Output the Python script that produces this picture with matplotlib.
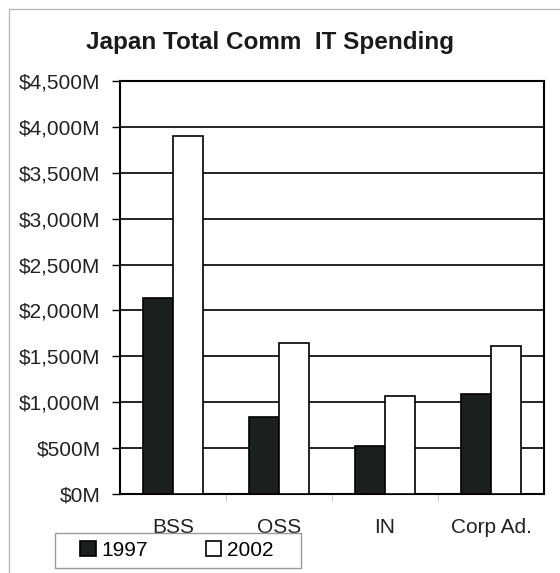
import numpy as np
import matplotlib.pyplot as plt
from matplotlib.patches import Rectangle
from matplotlib.ticker import FuncFormatter

categories = ['BSS', 'OSS', 'IN', 'Corp Ad.']
spend_1997 = [2140, 840, 520, 1090]
spend_2002 = [3900, 1645, 1070, 1615]

plt.rcParams['font.family'] = ['Liberation Sans', 'DejaVu Sans']

fig = plt.figure(figsize=(5.6, 5.73), dpi=100)
ax = fig.add_axes([0.2143, 0.1379, 0.7571, 0.7207])

x = np.arange(len(categories))
w = 0.285
ax.bar(x - w / 2, spend_1997, w, color='#1b1f1e', edgecolor='black', linewidth=1.2,
       label='1997', zorder=3)
ax.bar(x + w / 2, spend_2002, w, color='white', edgecolor='black', linewidth=1.2,
       label='2002', zorder=3)

ax.set_xlim(-0.5, len(categories) - 0.5)
ax.set_ylim(0, 4500)
ax.set_yticks(np.arange(0, 4501, 500))
ax.yaxis.set_major_formatter(FuncFormatter(lambda v, p: '${:,.0f}M'.format(v)))
ax.grid(axis='y', color='black', linewidth=1.2, zorder=0)

ax.set_xticks(x)
ax.set_xticklabels(categories)
ax.set_xticks(x[:-1] + 0.5, minor=True)
ax.tick_params(axis='x', which='major', length=0, pad=17, labelsize=15, colors='#222222')
ax.tick_params(axis='x', which='minor', length=5, color='#bbbbbb', direction='out')
ax.tick_params(axis='y', length=6, width=1, pad=8, labelsize=15, labelcolor='#222222')
for s in ax.spines.values():
    s.set_linewidth(1.5)

fig.text(0.482, 0.925, 'Japan Total Comm  IT Spending', ha='center', va='center',
         fontsize=17.5, fontweight='bold', color='#1a1a1a')

# legend entries without their own frame; the box is drawn separately
leg = fig.legend(loc='center', bbox_to_anchor=(0.316, 0.0393), ncol=2, fontsize=15,
                 frameon=False, handlelength=0.75, handleheight=0.75,
                 handletextpad=0.3, columnspacing=2.75, borderpad=0, borderaxespad=0)
fig.patches.append(Rectangle((55 / 560, 1 - 568 / 573), 246 / 560, 35 / 573,
                             transform=fig.transFigure, fill=False,
                             edgecolor='#999999', linewidth=1))

# thin frame around the figure
fig.patches.append(Rectangle((9 / 560, -0.02), 1.1, 1 - 9 / 573 + 0.02,
                             transform=fig.transFigure, fill=False,
                             edgecolor='#bbbbbb', linewidth=1))

fig.savefig('out.png', dpi=100)
